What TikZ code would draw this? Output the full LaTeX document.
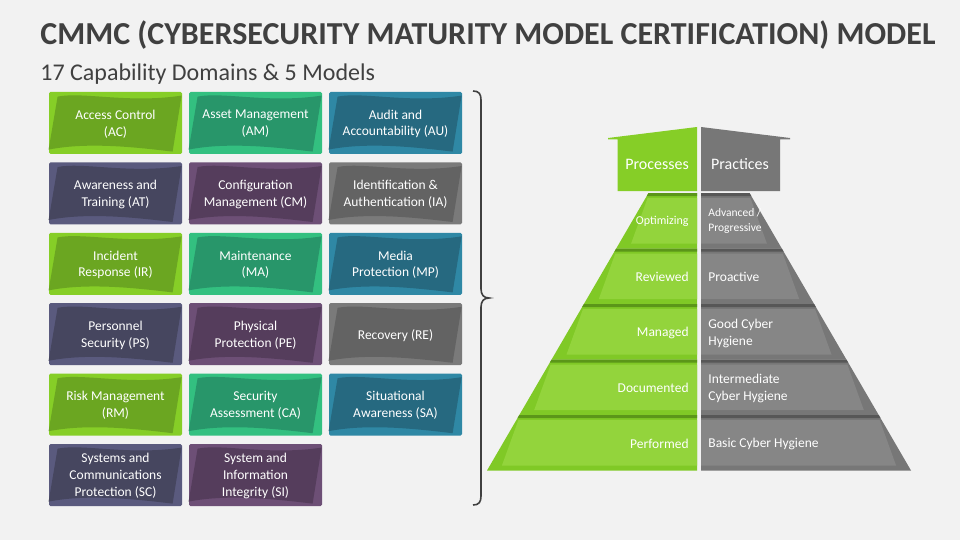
\documentclass[tikz,border=0pt]{standalone}
\usepackage{fontspec}
\setmainfont{Carlito}
\usetikzlibrary{calc}

\definecolor{bgc}{HTML}{F2F2F2}
\definecolor{ttl}{HTML}{404040}
% tile colours, outer and inner (d...)
\definecolor{grn}{HTML}{86CE27}
\definecolor{dgrn}{HTML}{6BA621}
\definecolor{tel}{HTML}{33C080}
\definecolor{dtel}{HTML}{28966A}
\definecolor{blu}{HTML}{2F88A5}
\definecolor{dblu}{HTML}{266980}
\definecolor{nav}{HTML}{5A5A7E}
\definecolor{dnav}{HTML}{46465F}
\definecolor{pur}{HTML}{6D4F76}
\definecolor{dpur}{HTML}{553D5C}
\definecolor{gry}{HTML}{7A7A7A}
\definecolor{dgry}{HTML}{636363}
% pyramid colours
\definecolor{gmid}{HTML}{80C926}
\definecolor{glt}{HTML}{93D43C}
\definecolor{gdk}{HTML}{5B9619}
\definecolor{ymid}{HTML}{777777}
\definecolor{ylt}{HTML}{868686}
\definecolor{ydk}{HTML}{575757}

\begin{document}
\begin{tikzpicture}[
x=1pt, y=-1pt,
tile/.style={rounded corners=1.5pt, minimum width=133pt,
	minimum height=62pt, inner sep=0pt},
tiletext/.style={text=white, align=center,
	font=\fontsize{13.5}{16.8}\selectfont},
lvl/.style={text=white, inner sep=0pt, font=\fontsize{13.5}{17}\selectfont},
roof/.style={text=white, font=\fontsize{16}{19}\selectfont},
thick
]
\fill[bgc] (0,0) rectangle (960,540);
\useasboundingbox (0,0) rectangle (960,540);

\node[anchor=base west, inner sep=0pt, text=ttl,
	font=\bfseries\fontsize{32}{38}\selectfont] (title) at (40,45)
	{CMMC (CYBERSECURITY MATURITY MODEL CERTIFICATION) MODEL};
\node[anchor=base west, inner sep=0pt, text=ttl,
	font=\fontsize{24}{29}\selectfont] (sub) at (40,81)
	{17 Capability Domains \& 5 Models};

% domain tiles
\foreach \nm/\cc/\rr/\ko/\txt in {
	AC/0/0/grn/{Access Control\\(AC)},
	AM/1/0/tel/{Asset Management\\(AM)},
	AU/2/0/blu/{Audit and\\Accountability (AU)},
	AT/0/1/nav/{Awareness and\\Training (AT)},
	CM/1/1/pur/{Configuration\\Management (CM)},
	IA/2/1/gry/{Identification \&\\Authentication (IA)},
	IR/0/2/grn/{Incident\\Response (IR)},
	MA/1/2/tel/{Maintenance\\(MA)},
	MP/2/2/blu/{Media\\Protection (MP)},
	PS/0/3/nav/{Personnel\\Security (PS)},
	PE/1/3/pur/{Physical\\Protection (PE)},
	RE/2/3/gry/{Recovery (RE)},
	RM/0/4/grn/{Risk Management\\(RM)},
	CA/1/4/tel/{Security\\Assessment (CA)},
	SA/2/4/blu/{Situational\\Awareness (SA)},
	SC/0/5/nav/{Systems and\\Communications\\Protection (SC)},
	SI/1/5/pur/{System and\\Information\\Integrity (SI)}}
{
	\node[tile, fill=\ko] (\nm) at ({115.5+140*\cc},{123+70.4*\rr}) {};
	\begin{scope}[shift={(\nm.north west)}]
		\fill[d\ko] (9,5) .. controls (35,0) and (80,12) .. (133,4)
			-- (124,60) .. controls (90,56) and (40,50) .. (0,58) -- cycle;
	\end{scope}
	\node[tiletext] (\nm txt) at ([yshift=-1pt]\nm.center) {\txt};
}

% brace
\coordinate (btop) at (473,91);
\coordinate (bmid) at (489,298);
\coordinate (bbot) at (473,505);
\draw[ttl, line width=1.6pt] (btop) .. controls (479,91) and (481,94) .. (481,100)
	-- (481,289) .. controls (481,295) and (484,298) .. (bmid)
	.. controls (484,298) and (481,301) .. (481,307)
	-- (481,496) .. controls (481,502) and (479,505) .. (bbot);

% pyramid levels
\foreach \k in {0,...,4}
{
	\pgfmathsetmacro\tp{193+55.5*\k}
	\pgfmathsetmacro\bt{\tp+55.5}
	\fill[gmid] ({487+0.582*(470.5-\tp)},\tp) -- (697,\tp) -- (697,\bt)
		-- ({487+0.582*(470.5-\bt)},\bt) -- cycle;
	\fill[glt] ({489+0.582*(465.5-\tp)},\tp+5) -- (697,\tp+5) -- (697,\bt-5)
		-- ({499+0.582*(475.5-\bt)},\bt-5) -- cycle;
	\fill[gdk] ({487+0.582*(470.5-\tp)},\tp) -- (697,\tp) -- (697,\tp+3)
		-- ({487+0.582*(467.5-\tp)},\tp+3) -- cycle;
	\fill[ymid] (701,\tp) -- ({911-0.582*(470.5-\tp)},\tp)
		-- ({911-0.582*(470.5-\bt)},\bt) -- (701,\bt) -- cycle;
	\fill[ylt] (701,\tp+5) -- ({909-0.582*(465.5-\tp)},\tp+5)
		-- ({899-0.582*(475.5-\bt)},\bt-5) -- (701,\bt-5) -- cycle;
	\fill[ydk] (701,\tp) -- ({911-0.582*(470.5-\tp)},\tp)
		-- ({911-0.582*(467.5-\tp)},\tp+3) -- (701,\tp+3) -- cycle;
}

% roof
\fill[grn] (608,138) -- (697,127) -- (697,191) -- (617.5,191)
	-- (617.5,139.5) -- (608,139.5) -- cycle;
\fill[ymid] (701,127) -- (790,138) -- (790,139.5) -- (780,139.5)
	-- (780,191) -- (701,191) -- cycle;
\node[roof] (proc) at (657,164) {Processes};
\node[roof] (prac) at (740,164) {Practices};

% level labels
\node[lvl, anchor=east, font=\fontsize{12}{15}\selectfont] (p0) at (689,221) {Optimizing};
\node[lvl, anchor=east] (p1) at (689,277) {Reviewed};
\node[lvl, anchor=east] (p2) at (689,333) {Managed};
\node[lvl, anchor=east] (p3) at (689,388) {Documented};
\node[lvl, anchor=east] (p4) at (689,444) {Performed};
\node[lvl, anchor=west, align=left, font=\fontsize{11.5}{15}\selectfont] (q0) at (708,221) {Advanced /\\Progressive};
\node[lvl, anchor=west] (q1) at (708,277) {Proactive};
\node[lvl, anchor=west, align=left] (q2) at (708,333) {Good Cyber\\Hygiene};
\node[lvl, anchor=west, align=left] (q3) at (708,388) {Intermediate\\Cyber Hygiene};
\node[lvl, anchor=west] (q4) at (708,444) {Basic Cyber Hygiene};
\end{tikzpicture}
\end{document}
